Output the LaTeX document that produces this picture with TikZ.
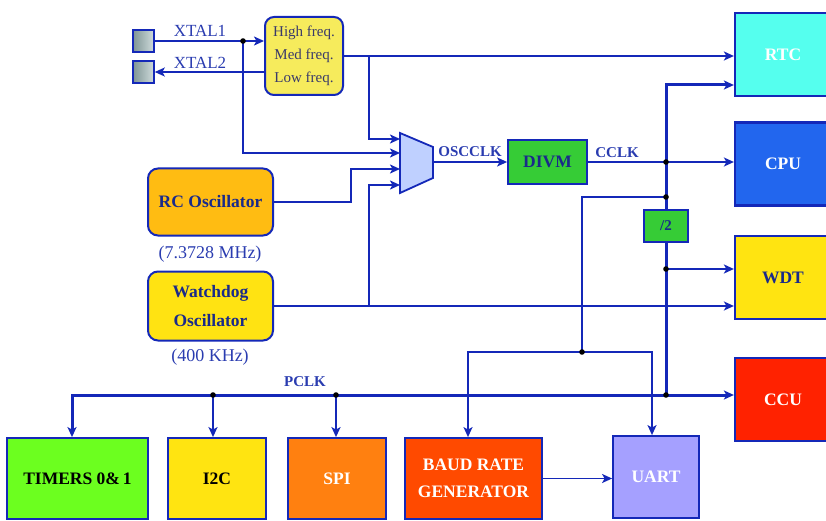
\documentclass[tikz,border=0pt]{standalone}
\usepackage{fontspec}
\setmainfont{Liberation Serif}
\usetikzlibrary{arrows.meta}
\definecolor{lc}{HTML}{1428B8}
\definecolor{labc}{HTML}{2A3CB0}
\definecolor{dtext}{HTML}{1A2A8A}
\definecolor{ftext}{HTML}{3A3A6A}
\definecolor{freqfill}{HTML}{F6EB5C}
\definecolor{rcfill}{HTML}{FFBC12}
\definecolor{wdfill}{HTML}{FFE312}
\definecolor{grn}{HTML}{36CC36}
\definecolor{muxfill}{HTML}{BFD0FF}
\definecolor{rtcfill}{HTML}{55FFEE}
\definecolor{cpufill}{HTML}{2266EE}
\definecolor{wdtfill}{HTML}{FFE411}
\definecolor{ccufill}{HTML}{FF2200}
\definecolor{timfill}{HTML}{6CFF1F}
\definecolor{i2cfill}{HTML}{FFE411}
\definecolor{spifill}{HTML}{FF8010}
\definecolor{baudfill}{HTML}{FF4A00}
\definecolor{uartfill}{HTML}{A5A0FF}
\definecolor{padL}{HTML}{7F9595}
\definecolor{padR}{HTML}{D0DCDC}
\begin{document}
\begin{tikzpicture}[x=1pt,y=-1pt,
  >={Stealth[length=10pt,width=9pt,inset=2.5pt]},
  wire/.style={draw=lc, line width=2.4pt},
  thinw/.style={draw=lc, line width=1.7pt},
  busw/.style={draw=lc, line width=3pt},
  pad/.style={draw=lc, line width=1.6pt, left color=padL, right color=padR, minimum width=21pt, minimum height=22pt, inner sep=0pt},
  rbox/.style={draw=lc, line width=2pt, rounded corners=10pt, inner sep=0pt, align=center, text=dtext, font=\bfseries\fontsize{17.5}{29}\selectfont},
  sbox/.style={draw=lc, line width=1.8pt, inner sep=0pt, align=center, font=\bfseries\fontsize{17.5}{27}\selectfont},
  rtbox/.style={sbox, line width=2.2pt, minimum width=96pt, minimum height=83pt, text=white},
  botbox/.style={sbox, minimum height=81pt},
  lab/.style={text=labc, inner sep=0pt, font=\fontsize{17}{20}\selectfont},
  blab/.style={text=labc, inner sep=0pt, font=\bfseries\fontsize{15}{18}\selectfont},
  dot/.style={fill=black}
]
\useasboundingbox (0,0) rectangle (826,521);
\clip (0,0) rectangle (826,521);

% crystal pads and frequency selector
\node[pad] (pad1) at (143.5,41) {};
\node[pad] (pad2) at (143.5,72) {};
\node[draw=lc, line width=2pt, rounded corners=9pt, fill=freqfill, minimum width=78pt, minimum height=78pt, inner sep=0pt, align=center, text=ftext, font=\fontsize{15}{23}\selectfont] (freq) at (304,56) {High freq.\\Med freq.\\Low freq.};
\node[lab] (x1) at (200,31) {XTAL1};
\node[lab] (x2) at (200,63) {XTAL2};

% oscillators
\node[rbox, fill=rcfill, minimum width=125pt, minimum height=67pt] (rc) at (210.5,202) {RC Oscillator};
\node[lab, font=\fontsize{18}{20}\selectfont] (rcf) at (210,254) {(7.3728 MHz)};
\node[rbox, fill=wdfill, minimum width=125pt, minimum height=69pt] (wd) at (210.5,306) {Watchdog\\Oscillator};
\node[lab, font=\fontsize{18}{20}\selectfont] (wdf) at (210,357) {(400 KHz)};

% multiplexer
\draw[fill=muxfill, draw=lc, line width=1.8pt] (400,133) -- (433,147) -- (433,178) -- (400,193) -- cycle;
\coordinate (m1) at (400,139);
\coordinate (m2) at (400,153);
\coordinate (m3) at (400,169);
\coordinate (m4) at (400,185);
\coordinate (mo) at (433,162);

% dividers
\node[sbox, fill=grn, text=dtext, minimum width=79pt, minimum height=44pt] (divm) at (547.5,162) {DIVM};
\node[sbox, fill=grn, text=dtext, minimum width=44pt, minimum height=32pt, font=\bfseries\fontsize{15}{18}\selectfont] (div2) at (666,226) {/2};
\node[blab] (osc) at (470,152) {OSCCLK};
\node[blab] (cclk) at (617,153) {CCLK};
\node[blab] (pclk) at (305,382) {PCLK};

% right column
\node[rtbox, fill=rtcfill] (rtc) at (783,54.5) {RTC};
\node[rtbox, fill=cpufill] (cpu) at (783,164) {CPU};
\node[rtbox, fill=wdtfill, text=dtext] (wdt) at (783,277.5) {WDT};
\node[rtbox, fill=ccufill] (ccu) at (783,399.5) {CCU};

% bottom row
\node[botbox, fill=timfill, text=black, minimum width=141pt] (timers) at (77.5,478.5) {TIMERS 0\&\,1};
\node[botbox, fill=i2cfill, text=black, minimum width=98pt] (i2c) at (217,478.5) {I2C};
\node[botbox, fill=spifill, text=white, minimum width=98pt] (spi) at (337,478.5) {SPI};
\node[botbox, fill=baudfill, text=white, minimum width=137pt] (baud) at (473.5,478.5) {BAUD RATE\\GENERATOR};
\node[botbox, fill=uartfill, text=white, minimum width=86pt, minimum height=82pt] (uart) at (656,477) {UART};

% junction coordinates
\coordinate (j1) at (243,41);
\coordinate (j2) at (369,56);
\coordinate (j3) at (369,306);
\coordinate (rcx) at (351,0);
\coordinate (vt) at (666,85);
\coordinate (jc) at (666,162);
\coordinate (jb) at (666,197);
\coordinate (jw) at (666,269);
\coordinate (pb) at (666,395);
\coordinate (bx) at (582,352);
\coordinate (bl) at (468,352);
\coordinate (br) at (652,352);
\coordinate (ta) at (72,395);
\coordinate (ji) at (213,395);
\coordinate (js) at (336,395);

% connectors
\draw[wire,->] (pad1.east) -- (pad1.east -| freq.west);
\draw[wire,->] (pad2.east -| freq.west) -- (pad2.east);
\draw[wire,->] (j1) |- (m2);
\draw[wire,->] (freq.east) -- (freq.east -| rtc.west);
\draw[wire,->] (j2) |- (m1);
\draw[wire,->] (rc.east) -| (rcx |- m3) -- (m3);
\draw[thinw,->] (wd.east) -- (wd.east -| wdt.west);
\draw[wire,->] (j3) |- (m4);
\draw[thinw,->] (mo) -- (divm.west);
\draw[thinw,->] (divm.east) -- (divm.east -| cpu.west);
\draw[busw,->] (div2.north) -- (vt) -- (vt -| rtc.west);
\draw[busw] (div2.south) -- (pb);
\draw[wire,->] (jw) -- (jw -| wdt.west);
\draw[thinw] (jb) -| (bx);
\draw[thinw,->] (bx) -- (bl) -- (bl |- baud.north);
\draw[thinw,->] (bx) -- (br) -- (br |- uart.north);
\draw[busw,<->] (pb -| ccu.west) -- (ta) -- (ta |- timers.north);
\draw[wire,->] (ji) -- (ji |- i2c.north);
\draw[wire,->] (js) -- (js |- spi.north);
\draw[thinw,->] (baud.east) -- (baud.east -| uart.west);

% junction dots
\foreach \p in {j1,jc,jb,jw,pb,bx,ji,js} \fill[dot] (\p) circle (2.8pt);
\end{tikzpicture}
\end{document}
